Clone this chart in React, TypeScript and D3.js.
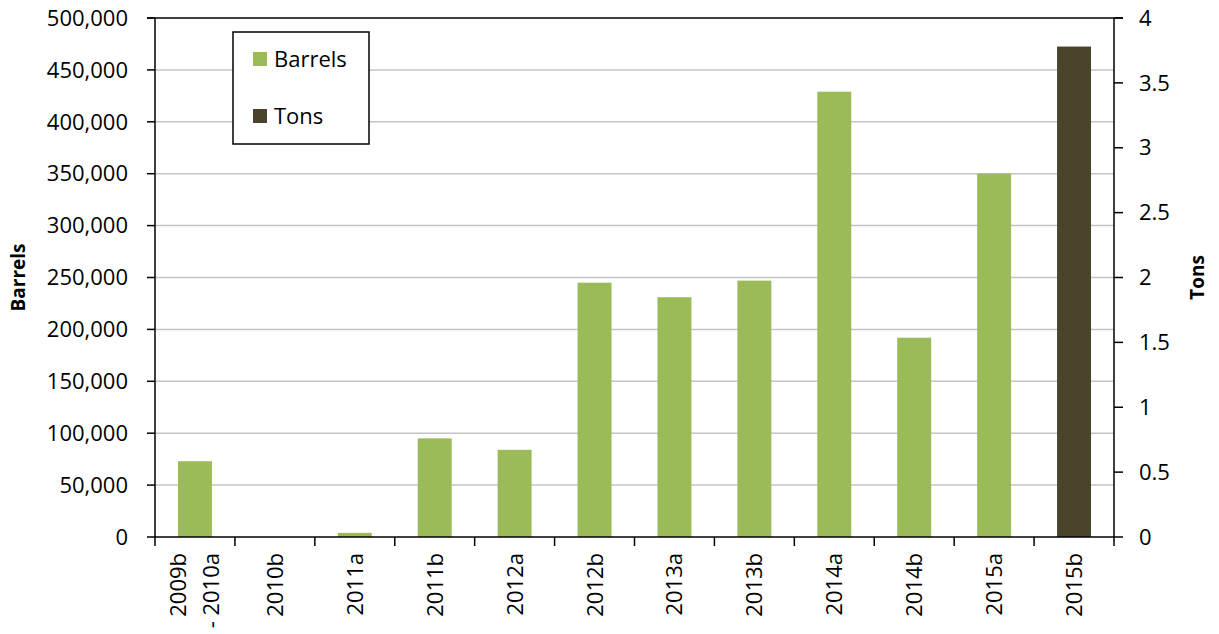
import React from "react";
import * as d3 from "d3";

const categories: string[][] = [
  ["2009b", "- 2010a"],
  ["2010b"],
  ["2011a"],
  ["2011b"],
  ["2012a"],
  ["2012b"],
  ["2013a"],
  ["2013b"],
  ["2014a"],
  ["2014b"],
  ["2015a"],
  ["2015b"],
];
const barrels: (number | null)[] = [73000, 0, 4000, 95000, 84000, 245000, 231000, 247000, 429000, 192000, 350000, null];
const tons: (number | null)[] = [null, null, null, null, null, null, null, null, null, null, null, 3.78];
const leftTicks = [0, 50000, 100000, 150000, 200000, 250000, 300000, 350000, 400000, 450000, 500000];
const rightTicks = [0, 0.5, 1, 1.5, 2, 2.5, 3, 3.5, 4];

const W = 1219, H = 634;
const L = 155, R = 1114, T = 18, B = 537;
const FONT = "'Open Sans', sans-serif";
const GREEN = "#9BBB59";
const DARK = "#4A452A";

export default function App() {
  const keys = categories.map((c) => c.join(" "));
  const x = d3.scaleBand<string>().domain(keys).range([L, R]).paddingInner(0.575).paddingOuter(0.2875);
  const yL = d3.scaleLinear().domain([0, 500000]).range([B, T]);
  const yR = d3.scaleLinear().domain([0, 4]).range([B, T]);
  const fmt = d3.format(",");
  const step = x.step();

  return (
    <svg width={W} height={H} style={{ position: "absolute", left: 0, top: 0 }} fontFamily={FONT}>
      <rect width={W} height={H} fill="#fff" />
      {/* gridlines */}
      {leftTicks.slice(1, -1).map((t) => (
        <line key={t} x1={L} x2={R} y1={yL(t)} y2={yL(t)} stroke="#C4C4C4" strokeWidth={1.5} />
      ))}
      <line x1={L - 8} x2={R + 9} y1={yL(500000)} y2={yL(500000)} stroke="#000" strokeWidth={1.5} />
      {/* bars */}
      {barrels.map((v, i) =>
        v == null || v === 0 ? null : (
          <rect key={"b" + i} x={x(keys[i])} width={x.bandwidth()} y={yL(v)} height={B - yL(v)} fill={GREEN} />
        )
      )}
      {tons.map((v, i) =>
        v == null ? null : (
          <rect key={"t" + i} x={x(keys[i])} width={x.bandwidth()} y={yR(v)} height={B - yR(v)} fill={DARK} />
        )
      )}
      {/* left axis */}
      <line x1={L} x2={L} y1={T} y2={B} stroke="#000" strokeWidth={1.5} />
      {leftTicks.map((t) => (
        <g key={"lt" + t}>
          <line x1={L - 8} x2={L} y1={yL(t)} y2={yL(t)} stroke="#000" strokeWidth={1.5} />
          <text x={128} y={yL(t)} dy="0.35em" textAnchor="end" fontSize={22} fill="#000">
            {fmt(t)}
          </text>
        </g>
      ))}
      {/* right axis */}
      <line x1={R} x2={R} y1={T} y2={B} stroke="#000" strokeWidth={1.5} />
      {rightTicks.map((t) => (
        <g key={"rt" + t}>
          <line x1={R} x2={R + 9} y1={yR(t)} y2={yR(t)} stroke="#000" strokeWidth={1.5} />
          <text x={1139} y={yR(t)} dy="0.35em" textAnchor="start" fontSize={22} fill="#000">
            {t}
          </text>
        </g>
      ))}
      {/* x axis */}
      <line x1={L} x2={R} y1={B} y2={B} stroke="#000" strokeWidth={1.5} />
      {d3.range(keys.length + 1).map((i) => (
        <line key={"xt" + i} x1={L + i * step} x2={L + i * step} y1={B} y2={B + 9} stroke="#000" strokeWidth={1.5} />
      ))}
      {categories.map((lines, i) => {
        const cx = (x(keys[i]) as number) + x.bandwidth() / 2;
        const lh = 33;
        const first = cx - ((lines.length - 1) * lh) / 2 + 8;
        return (
          <text key={"xl" + i} transform={`translate(${first},${553}) rotate(-90)`} textAnchor="end" fontSize={22} fill="#000">
            {lines.map((ln, j) => (
              <tspan key={j} x={0} dy={j === 0 ? 0 : lh}>
                {ln}
              </tspan>
            ))}
          </text>
        );
      })}
      {/* axis titles */}
      <text transform={`translate(25,${(T + B) / 2}) rotate(-90)`} textAnchor="middle" fontSize={19} fontWeight="bold" fill="#000">
        Barrels
      </text>
      <text transform={`translate(1204,${(T + B) / 2}) rotate(-90)`} textAnchor="middle" fontSize={19} fontWeight="bold" fill="#000">
        Tons
      </text>
      {/* legend */}
      <rect x={233} y={32} width={136} height={112} fill="#fff" stroke="#000" strokeWidth={1.5} />
      <rect x={253} y={52} width={14} height={14} fill={GREEN} />
      <text x={274} y={59} dy="0.35em" fontSize={22} fill="#000">Barrels</text>
      <rect x={253} y={109} width={14} height={14} fill={DARK} />
      <text x={274} y={116} dy="0.35em" fontSize={22} fill="#000">Tons</text>
    </svg>
  );
}
